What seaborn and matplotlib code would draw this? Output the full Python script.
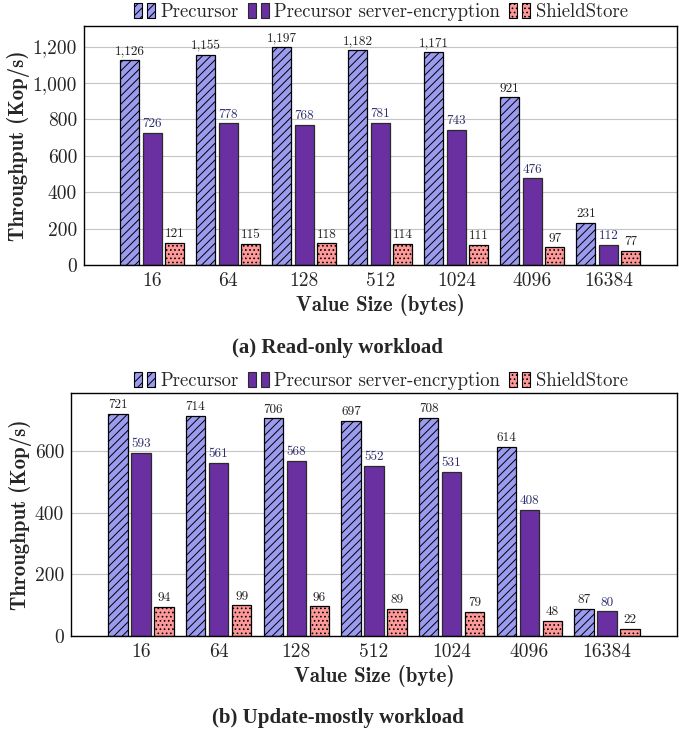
import pandas as pd
import matplotlib.pyplot as plt
import seaborn as sns
from matplotlib.patches import Rectangle
from matplotlib.legend_handler import HandlerTuple
from matplotlib.ticker import FuncFormatter

# value sizes (bytes)
sizes = ["16", "64", "128", "512", "1024", "4096", "16384"]
systems = ["Precursor", "Precursor server-encryption", "ShieldStore"]

# (a) read-only throughput, Kop/s
read_precursor = [1126, 1155, 1197, 1182, 1171, 921, 231]
read_encryption = [726, 778, 768, 781, 743, 476, 112]
read_shieldstore = [121, 115, 118, 114, 111, 97, 77]

# (b) update-mostly throughput, Kop/s
upd_precursor = [721, 714, 706, 697, 708, 614, 87]
upd_encryption = [593, 561, 568, 552, 531, 408, 80]
upd_shieldstore = [94, 99, 96, 89, 79, 48, 22]

colors = ["#9b9bf0", "#6a2fa0", "#ff9999"]
hatches = ["////", "", "...."]
label_colors = ["#222222", "#2e2e6e", "#222222"]

sns.set_style("white")
plt.rcParams["font.family"] = ["cmr10", "DejaVu Serif"]
plt.rcParams["hatch.linewidth"] = 0.7
plt.rcParams["axes.unicode_minus"] = False


def make_df(a, b, c):
    rows = []
    for vals, name in zip([a, b, c], systems):
        for s, v in zip(sizes, vals):
            rows.append({"size": s, "system": name, "value": v})
    return pd.DataFrame(rows)


def draw(ax, df, ymax, ticks, xlabel):
    sns.barplot(data=df, x="size", y="value", hue="system", order=sizes,
                hue_order=systems, palette=colors, saturation=1, errorbar=None,
                width=0.89, gap=0.16, edgecolor="black", linewidth=0.9,
                legend=False, ax=ax)
    for cont, h, lc in zip(ax.containers, hatches, label_colors):
        for bar in cont:
            bar.set_hatch(h)
            if h == "":
                bar.set_edgecolor("#2a2a2a")
        ax.bar_label(cont, fmt="{:,.0f}", padding=2, fontsize=9.5, color=lc)
    ax.set_xlim(-0.9, 6.9)
    ax.set_ylim(0, ymax)
    ax.set_yticks(ticks)
    ax.yaxis.set_major_formatter(FuncFormatter(lambda v, p: f"{v:,.0f}"))
    ax.tick_params(axis="both", length=0, labelsize=14, pad=5)
    ax.grid(axis="y", color="#c4c4c4", linewidth=0.8)
    ax.set_axisbelow(True)
    for sp in ax.spines.values():
        sp.set_color("black")
        sp.set_linewidth(1.0)
    ax.set_xlabel(xlabel, family=["cmb10", "DejaVu Serif"], fontsize=15, labelpad=3)
    ax.set_ylabel("Throughput (Kop/s)", family=["cmb10", "DejaVu Serif"],
                  fontsize=15, labelpad=2)


def legend_handles():
    handles = []
    for c, h in zip(colors, hatches):
        ec = "black" if h else "#2a2a2a"
        p1 = Rectangle((0, 0), 1, 1, facecolor=c, hatch=h, edgecolor=ec, linewidth=0.8)
        p2 = Rectangle((0, 0), 1, 1, facecolor=c, hatch=h, edgecolor=ec, linewidth=0.8)
        handles.append((p1, p2))
    return handles


fig = plt.figure(figsize=(6.79, 7.38), dpi=100)
ax1 = fig.add_axes([0.1237, 0.641, 0.873, 0.324])
ax2 = fig.add_axes([0.1046, 0.1382, 0.8925, 0.3297])

draw(ax1, make_df(read_precursor, read_encryption, read_shieldstore),
     1314, [0, 200, 400, 600, 800, 1000, 1200], "Value Size (bytes)")
draw(ax2, make_df(upd_precursor, upd_encryption, upd_shieldstore),
     789, [0, 200, 400, 600], "Value Size (byte)")

for y in [0.984, 0.484]:
    fig.legend(legend_handles(), systems, loc="center", bbox_to_anchor=(0.561, y),
               ncol=3, frameon=False, fontsize=13.5,
               handler_map={tuple: HandlerTuple(ndivide=None, pad=0.25)},
               handlelength=1.1, handleheight=0.85, handletextpad=0.3,
               columnspacing=0.5, borderpad=0.1)

fig.text(0.497, 0.528, "(a) Read-only workload", ha="center", va="center",
         family=["Liberation Serif"], fontweight="bold", fontsize=15)
fig.text(0.497, 0.027, "(b) Update-mostly workload", ha="center", va="center",
         family=["Liberation Serif"], fontweight="bold", fontsize=15)

fig.savefig("out.png", dpi=100)
